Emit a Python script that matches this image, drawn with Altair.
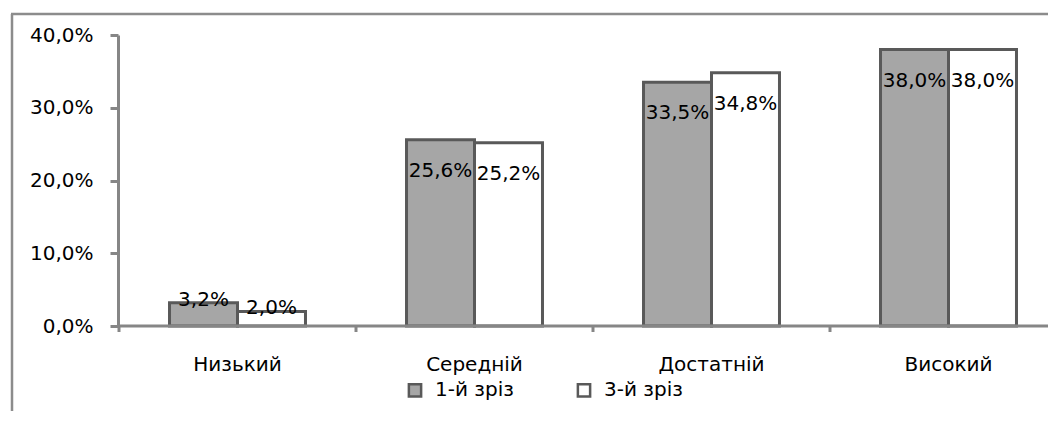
import altair as alt
import pandas as pd

categories = ["Низький", "Середній", "Достатній", "Високий"]
series_names = ["1-й зріз", "3-й зріз"]
values_1 = [3.2, 25.6, 33.5, 38.0]
values_3 = [2.0, 25.2, 34.8, 38.0]
y_ticks = [0, 10, 20, 30, 40]

rows = []
for i, c in enumerate(categories):
    rows.append({"cat": c, "series": series_names[0], "v": values_1[i]})
    rows.append({"cat": c, "series": series_names[1], "v": values_3[i]})
df = pd.DataFrame(rows)
cat_df = pd.DataFrame({"cat": categories})

FONT = "DejaVu Sans"
FS = 20
AXIS_GRAY = "#868686"
BAR_STROKE = "#595959"
W, H = 930, 291

x_scale = alt.Scale(domain=categories, range=[1, 949], paddingInner=0, paddingOuter=0)
x_enc = alt.X(
    "cat:N",
    sort=categories,
    scale=x_scale,
    axis=alt.Axis(
        title=None, labelAngle=0, labelAlign="center", domain=False, ticks=False,
        labelFont=FONT, labelFontSize=FS, labelColor="#000000", labelPadding=38,
    ),
)
xoff = alt.XOffset("series:N", sort=series_names,
                   scale=alt.Scale(paddingOuter=0.743, paddingInner=0))
y_enc = alt.Y(
    "v:Q",
    scale=alt.Scale(domain=[0, 40], nice=False),
    axis=alt.Axis(
        title=None, values=y_ticks, grid=False, tickSize=8, tickWidth=3,
        tickColor=AXIS_GRAY, domainColor=AXIS_GRAY, domainWidth=3,
        labelFont=FONT, labelFontSize=FS, labelColor="#000000", labelPadding=17,
        labelExpr="replace(format(datum.value, '.1f'), '.', ',') + '%'",
    ),
)

base = alt.Chart(df)

bars = base.mark_bar(stroke=BAR_STROKE, strokeWidth=3).encode(
    x=x_enc,
    xOffset=xoff,
    y=y_enc,
    color=alt.Color(
        "series:N",
        sort=series_names,
        scale=alt.Scale(domain=series_names, range=["#a6a6a6", "#ffffff"]),
        legend=alt.Legend(
            title=None, orient="none", legendX=287, legendY=345,
            direction="horizontal", symbolType="square", symbolSize=150,
            symbolStrokeColor=BAR_STROKE, symbolStrokeWidth=2.5,
            labelFont=FONT, labelFontSize=FS, labelColor="#000000",
            labelOffset=10, columnPadding=58, padding=0,
        ),
    ),
)

label_expr = "replace(format(datum.v, '.1f'), '.', ',') + '%'"

text_big = base.transform_filter("datum.v >= 10").transform_calculate(
    lbl=label_expr
).mark_text(font=FONT, fontSize=FS, color="#000000", baseline="middle", dy=31).encode(
    x=alt.X("cat:N", sort=categories, scale=x_scale), xOffset=xoff, y="v:Q", text="lbl:N"
)

text_small = base.transform_filter("datum.v < 10").transform_calculate(
    lbl=label_expr
).mark_text(font=FONT, fontSize=FS, color="#000000", baseline="middle", dy=-3).encode(
    x=alt.X("cat:N", sort=categories, scale=x_scale), xOffset=xoff, y="v:Q", text="lbl:N"
)

# x-axis baseline and band-boundary ticks
x_ticks = alt.Chart(cat_df).mark_rule(color=AXIS_GRAY, strokeWidth=3).encode(
    x=alt.X("cat:N", sort=categories, scale=x_scale, bandPosition=0),
    y=alt.value(H), y2=alt.value(H + 6),
)
x_line = alt.Chart(alt.Data(values=[{"k": 1}])).mark_rule(color=AXIS_GRAY, strokeWidth=3).encode(
    x=alt.value(0), x2=alt.value(W), y=alt.value(H)
)

frame_data = alt.Data(values=[{"k": 1}])
frame_left = alt.Chart(frame_data).mark_rule(color="#8c8c8c", strokeWidth=2.5).encode(
    x=alt.value(-106), y=alt.value(-21), y2=alt.value(H + 94)
)
frame_top = alt.Chart(frame_data).mark_rule(color="#8c8c8c", strokeWidth=2.5).encode(
    x=alt.value(-107), x2=alt.value(W), y=alt.value(-21)
)

chart = alt.layer(frame_left, frame_top, x_ticks, bars, x_line, text_big, text_small).properties(
    width=W,
    height=H,
    autosize=alt.AutoSizeParams(type="none"),
    padding={"left": 110, "top": 27, "right": 0, "bottom": 85},
).configure_view(stroke="transparent")

chart.save("out.html", embed_options={"renderer": "svg", "actions": False})
